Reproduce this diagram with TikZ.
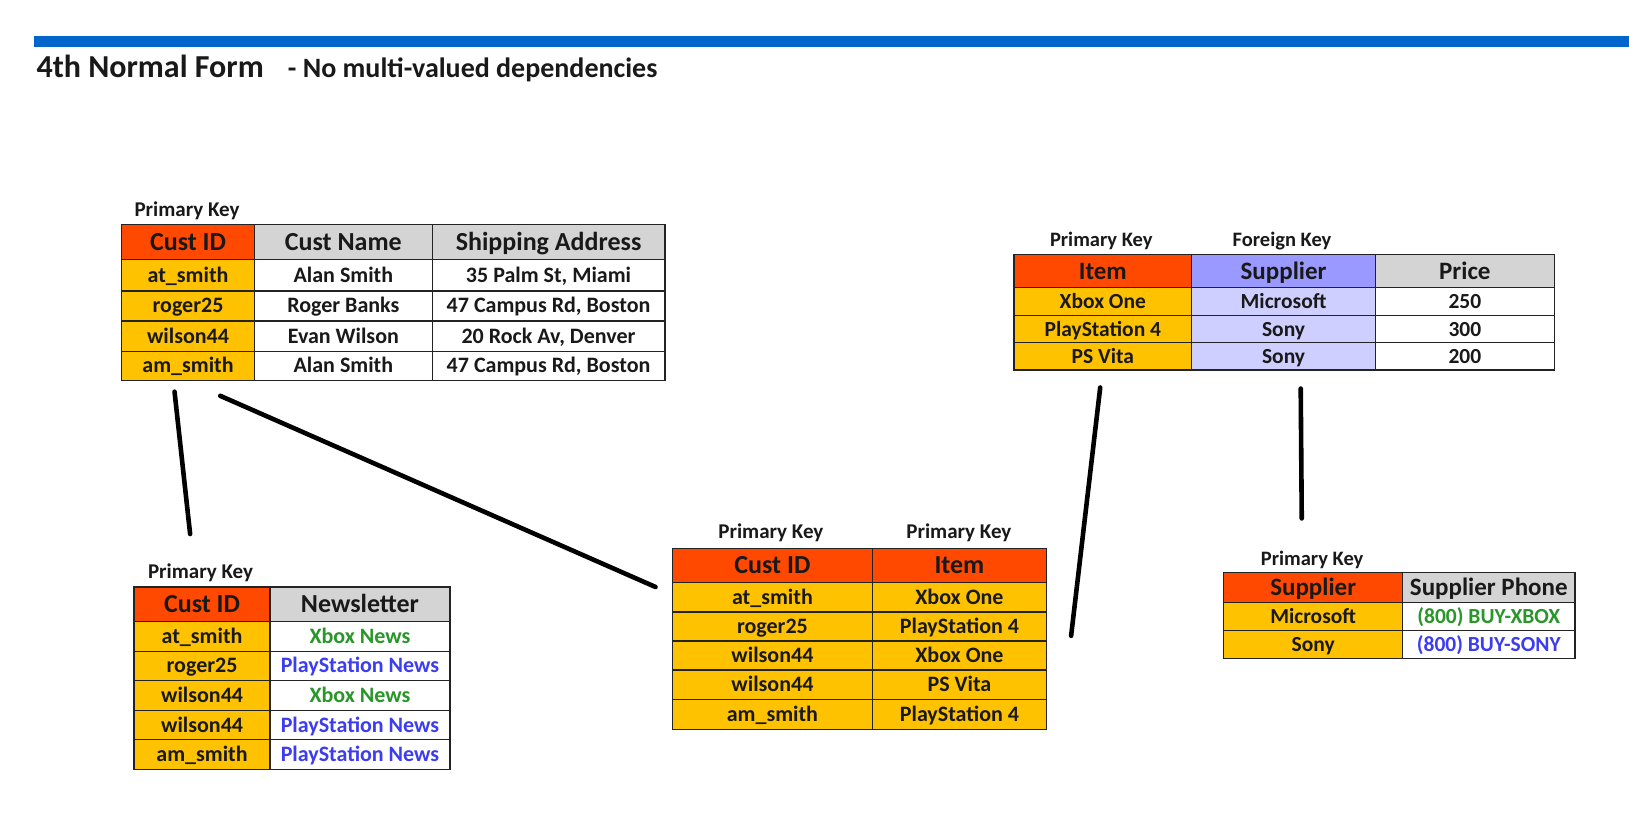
\documentclass[tikz,border=0pt]{standalone}
\usepackage{fontspec}
\setmainfont{Carlito}
\definecolor{barblue}{RGB}{0,102,204}
\definecolor{pkred}{RGB}{255,72,0}
\definecolor{keyyel}{RGB}{255,194,0}
\definecolor{hdgray}{RGB}{212,212,212}
\definecolor{fkblue}{RGB}{153,153,255}
\definecolor{fklight}{RGB}{206,206,255}
\definecolor{txtgreen}{RGB}{40,150,40}
\definecolor{txtblue}{RGB}{60,60,240}
\definecolor{bordercol}{RGB}{35,35,35}
\tikzset{
  cellbase/.style={draw=bordercol,line width=1.3pt,inner sep=0pt,outer sep=0pt,
    anchor=center,text depth=0pt,text=black!90},
  hdrA/.style={font=\fontsize{26}{30}\selectfont\bfseries,text height=16.4pt},
  datA/.style={font=\fontsize{22}{26}\selectfont\bfseries,text height=13.9pt},
  hdrB/.style={font=\fontsize{25}{29}\selectfont\bfseries,text height=15.8pt},
  datB/.style={font=\fontsize{21.5}{25}\selectfont\bfseries,text height=13.6pt},
  keylabel/.style={font=\fontsize{21}{24}\selectfont\bfseries,inner sep=0pt,text=black!90},
  link/.style={line width=4.6pt,line cap=round,black}
}
\newcommand\cellbox[8]{%
  \pgfmathsetmacro\cw{(#4-#2)*1.0389}%
  \pgfmathsetmacro\ch{(#5-#3)*1.0389}%
  \node[cellbase,fill=#6,minimum width=\cw pt,minimum height=\ch pt,#7] (#1) at ({(#2+#4)/2},{(#3+#5)/2}) {#8};}
\begin{document}
\begin{tikzpicture}[x=1.0389pt,y=-1.0389pt]
\useasboundingbox (0,0) rectangle (1568,799);
\fill[white] (0,0) rectangle (1568,799);
% header bar and title
\fill[barblue] (33,35) rectangle (1568,45);
\node[anchor=base west,inner sep=0pt,font=\fontsize{32}{36}\selectfont\bfseries,text=black!90] (title) at (35,75) {4th Normal Form};
\node[anchor=base west,inner sep=0pt,font=\fontsize{28}{32}\selectfont\bfseries,text=black!90] (subtitle) at (277,75) {- No multi-valued dependencies};

% ---------- Table A: customers ----------
\node[keylabel] (pkA) at (180,203) {Primary Key};
\cellbox{a-h1}{117}{216}{245}{250}{pkred}{hdrA}{Cust ID}
\cellbox{a-h2}{245}{216}{416}{250}{hdgray}{hdrA}{Cust Name}
\cellbox{a-h3}{416}{216}{640}{250}{hdgray}{hdrA}{Shipping Address}
\foreach \r/\ya/\yb/\ca/\cb/\cc in {1/250/280/at\_smith/Alan Smith/{35 Palm St, Miami},
  2/280/309/roger25/Roger Banks/{47 Campus Rd, Boston},
  3/309/338/wilson44/Evan Wilson/{20 Rock Av, Denver},
  4/338/366/am\_smith/Alan Smith/{47 Campus Rd, Boston}}{
  \cellbox{a-\r-1}{117}{\ya}{245}{\yb}{keyyel}{datA}{\ca}
  \cellbox{a-\r-2}{245}{\ya}{416}{\yb}{white}{datA}{\cb}
  \cellbox{a-\r-3}{416}{\ya}{640}{\yb}{white}{datA}{\cc}
}

% ---------- Table B: items ----------
\node[keylabel,font=\fontsize{20.5}{24}\selectfont\bfseries] (pkB) at (1060,232) {Primary Key};
\node[keylabel,font=\fontsize{20.5}{24}\selectfont\bfseries] (fkB) at (1234,232) {Foreign Key};
\cellbox{b-h1}{976}{245}{1147}{277}{pkred}{hdrB}{Item}
\cellbox{b-h2}{1147}{245}{1324}{277}{fkblue}{hdrB}{Supplier}
\cellbox{b-h3}{1324}{245}{1496}{277}{hdgray}{hdrB}{Price}
\foreach \r/\ya/\yb/\ca/\cb/\cc in {1/277/304/Xbox One/Microsoft/250,
  2/304/330/PlayStation 4/Sony/300,
  3/330/356/PS Vita/Sony/200}{
  \cellbox{b-\r-1}{976}{\ya}{1147}{\yb}{keyyel}{datB}{\ca}
  \cellbox{b-\r-2}{1147}{\ya}{1324}{\yb}{fklight}{datB}{\cb}
  \cellbox{b-\r-3}{1324}{\ya}{1496}{\yb}{white}{datB}{\cc}
}

% ---------- Table C: newsletters ----------
\node[keylabel] (pkC) at (193,551) {Primary Key};
\cellbox{c-h1}{129}{565}{260}{598}{pkred}{hdrA}{Cust ID}
\cellbox{c-h2}{260}{565}{433}{598}{hdgray}{hdrA}{Newsletter}
\foreach \r/\ya/\yb/\ca/\cb/\col in {1/598/627/at\_smith/Xbox News/txtgreen,
  2/627/655/roger25/PlayStation News/txtblue,
  3/655/684/wilson44/Xbox News/txtgreen,
  4/684/712/wilson44/PlayStation News/txtblue,
  5/712/741/am\_smith/PlayStation News/txtblue}{
  \cellbox{c-\r-1}{129}{\ya}{260}{\yb}{keyyel}{datA}{\ca}
  \cellbox{c-\r-2}{260}{\ya}{433}{\yb}{white}{datA,text=\col}{\cb}
}

% ---------- Table D: customer items ----------
\node[keylabel] (pkD1) at (742,513) {Primary Key};
\node[keylabel] (pkD2) at (923,513) {Primary Key};
\cellbox{d-h1}{647}{528}{840}{561}{pkred}{hdrA}{Cust ID}
\cellbox{d-h2}{840}{528}{1007}{561}{pkred}{hdrA}{Item}
\foreach \r/\ya/\yb/\ca/\cb in {1/561/589/at\_smith/Xbox One,
  2/589/617/roger25/PlayStation 4,
  3/617/645/wilson44/Xbox One,
  4/645/673/wilson44/PS Vita,
  5/673/702/am\_smith/PlayStation 4}{
  \cellbox{d-\r-1}{647}{\ya}{840}{\yb}{keyyel}{datA}{\ca}
  \cellbox{d-\r-2}{840}{\ya}{1007}{\yb}{keyyel}{datA}{\cb}
}

% ---------- Table E: suppliers ----------
\node[keylabel,font=\fontsize{20.5}{24}\selectfont\bfseries] (pkE) at (1263,539) {Primary Key};
\cellbox{e-h1}{1178}{551}{1350}{580}{pkred}{hdrB}{Supplier}
\cellbox{e-h2}{1350}{551}{1516}{580}{hdgray}{hdrB}{Supplier Phone}
\cellbox{e-1-1}{1178}{580}{1350}{607}{keyyel}{datB}{Microsoft}
\cellbox{e-1-2}{1350}{580}{1516}{607}{white}{datB,text=txtgreen}{(800) BUY-XBOX}
\cellbox{e-2-1}{1178}{607}{1350}{634}{keyyel}{datB}{Sony}
\cellbox{e-2-2}{1350}{607}{1516}{634}{white}{datB,text=txtblue}{(800) BUY-SONY}

% ---------- connectors ----------
\coordinate (l1a) at (168,377);
\coordinate (l1b) at (183,514);
\coordinate (l2a) at (212,381);
\coordinate (l2b) at (631,565);
\coordinate (l3a) at (1059,373);
\coordinate (l3b) at (1031,612);
\coordinate (l4a) at (1252,374);
\coordinate (l4b) at (1253,499);
\draw[link] (l1a) -- (l1b);
\draw[link] (l2a) -- (l2b);
\draw[link] (l3a) -- (l3b);
\draw[link] (l4a) -- (l4b);
\end{tikzpicture}
\end{document}
